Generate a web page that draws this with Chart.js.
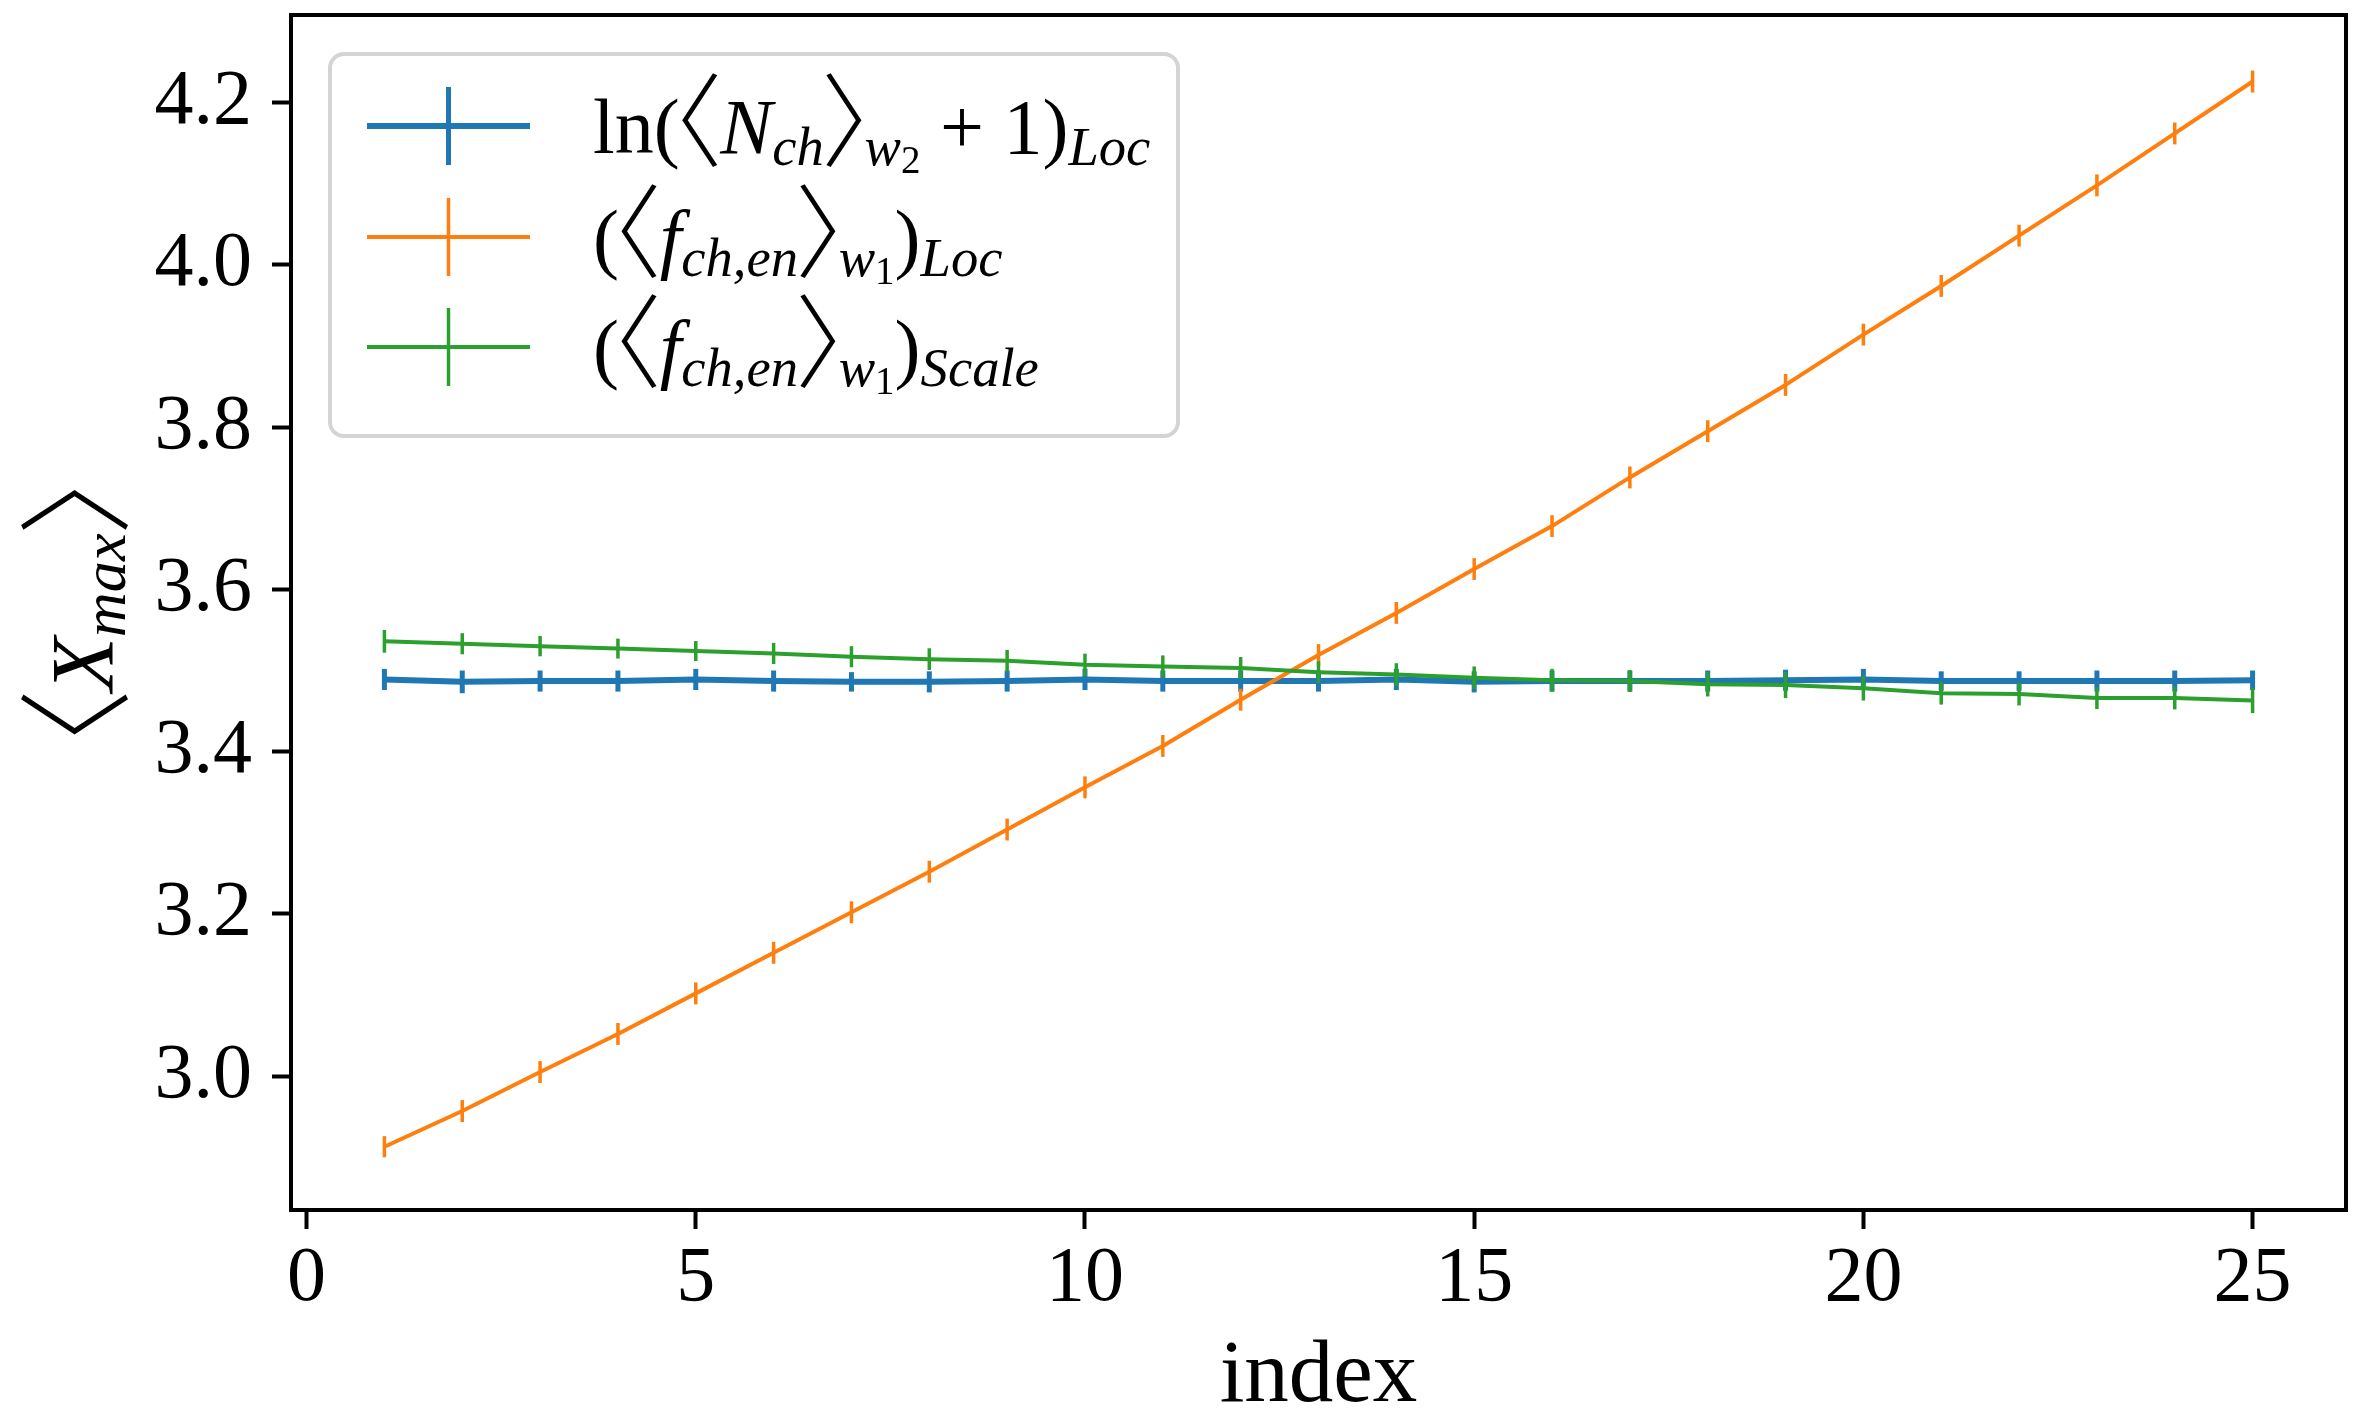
<!DOCTYPE html>
<html>
<head>
<meta charset="utf-8">
<script src="https://cdn.jsdelivr.net/npm/chart.js@4/dist/chart.umd.min.js"></script>
<style>
  html, body { margin: 0; padding: 0; background: #ffffff; }
  canvas { display: block; }
</style>
</head>
<body>
<canvas id="chart" width="2366" height="1418"></canvas>
<script>
// ---- data -------------------------------------------------------------
const indices = [1, 2, 3, 4, 5, 6, 7, 8, 9, 10, 11, 12, 13, 14, 15, 16, 17, 18, 19, 20, 21, 22, 23, 24, 25];

const nchLoc = [3.489, 3.486, 3.487, 3.487, 3.489, 3.487, 3.486, 3.486, 3.487, 3.489, 3.487, 3.487, 3.487,
                3.489, 3.486, 3.487, 3.487, 3.487, 3.488, 3.489, 3.487, 3.487, 3.487, 3.487, 3.488];
const nchLocErr = [0.013, 0.014, 0.013, 0.013, 0.013, 0.013, 0.012, 0.013, 0.013, 0.013, 0.013, 0.013, 0.013,
                   0.013, 0.013, 0.013, 0.013, 0.013, 0.013, 0.013, 0.012, 0.012, 0.013, 0.013, 0.012];

const fchLoc = [2.913, 2.957, 3.005, 3.052, 3.102, 3.152, 3.202, 3.252, 3.304, 3.356, 3.407, 3.464, 3.519,
                3.571, 3.625, 3.678, 3.738, 3.795, 3.852, 3.914, 3.974, 4.036, 4.098, 4.162, 4.226];
const fchLocErr = [0.013, 0.0135, 0.0135, 0.0135, 0.0135, 0.0135, 0.0135, 0.0135, 0.0135, 0.0135, 0.0135, 0.0135, 0.0135,
                   0.0135, 0.0135, 0.0135, 0.0135, 0.0135, 0.0135, 0.0135, 0.0135, 0.0135, 0.0135, 0.0135, 0.0135];

const fchScale = [3.536, 3.533, 3.530, 3.527, 3.524, 3.521, 3.517, 3.514, 3.512, 3.507, 3.505, 3.503, 3.498,
                  3.495, 3.491, 3.488, 3.487, 3.483, 3.482, 3.478, 3.472, 3.471, 3.466, 3.466, 3.463];
const fchScaleErr = [0.014, 0.013, 0.0125, 0.0123, 0.0123, 0.013, 0.013, 0.0134, 0.0134, 0.0138, 0.0136, 0.0136, 0.0134,
                     0.014, 0.014, 0.014, 0.0135, 0.015, 0.016, 0.015, 0.014, 0.014, 0.0135, 0.014, 0.0155];

const xTicks = [0, 5, 10, 15, 20, 25];
const yTicks = [3.0, 3.2, 3.4, 3.6, 3.8, 4.0, 4.2];

const xLabel = 'index';
// rich-text pieces: t = text, it = italic, lv = 0 normal / 1 subscript / 2 sub-subscript,
// br = tall thin angle bracket
const yLabel = [
  { t: '\u3008', it: false, lv: 0, br: true },
  { t: 'X', it: true, lv: 0 },
  { t: 'max', it: true, lv: 1 },
  { t: '\u3009', it: false, lv: 0, br: true }
];
const seriesLabels = [
  [
    { t: 'ln(', it: false, lv: 0 }, { t: '\u3008', it: false, lv: 0, br: true }, { t: 'N', it: true, lv: 0 },
    { t: 'ch', it: true, lv: 1 }, { t: '\u3009', it: false, lv: 0, br: true }, { t: 'w', it: true, lv: 1 },
    { t: '2', it: false, lv: 2 }, { t: ' + 1)', it: false, lv: 0 }, { t: 'Loc', it: true, lv: 1 }
  ],
  [
    { t: '(', it: false, lv: 0 }, { t: '\u3008', it: false, lv: 0, br: true }, { t: 'f', it: true, lv: 0 },
    { t: 'ch,en', it: true, lv: 1 }, { t: '\u3009', it: false, lv: 0, br: true }, { t: 'w', it: true, lv: 1 },
    { t: '1', it: false, lv: 2 }, { t: ')', it: false, lv: 0 }, { t: 'Loc', it: true, lv: 1 }
  ],
  [
    { t: '(', it: false, lv: 0 }, { t: '\u3008', it: false, lv: 0, br: true }, { t: 'f', it: true, lv: 0 },
    { t: 'ch,en', it: true, lv: 1 }, { t: '\u3009', it: false, lv: 0, br: true }, { t: 'w', it: true, lv: 1 },
    { t: '1', it: false, lv: 2 }, { t: ')', it: false, lv: 0 }, { t: 'Scale', it: true, lv: 1 }
  ]
];

const colors = ['#1f77b4', '#ff7f0e', '#2ca02c'];

// ---- helpers ----------------------------------------------------------
const FAMILY = "'Liberation Serif', 'DejaVu Serif', serif";
const BRACKET_FAMILY = "'Noto Sans CJK JP', 'Noto Sans CJK SC', 'DejaVu Sans', sans-serif";
const LV_SCALE = [1, 0.7, 0.5];
const LV_SHIFT = [0, 0.15, 0.26];
const BR_SIZE = 1.3;     // brackets are drawn larger than the text
const BR_PAD = 0.03;     // side bearing for the brackets, in em
const BR_DROP = 0.08;    // brackets reach a little below the baseline

function segFont(seg, size) {
  const base = size * LV_SCALE[seg.lv];
  if (seg.br) return '300 ' + (base * BR_SIZE).toFixed(1) + 'px ' + BRACKET_FAMILY;
  return (seg.it ? 'italic ' : '') + base.toFixed(1) + 'px ' + FAMILY;
}
// returns advance width and horizontal draw offset of one piece
function segMetrics(ctx, seg, size) {
  ctx.font = segFont(seg, size);
  const m = ctx.measureText(seg.t);
  if (!seg.br) return { w: m.width, dx: 0 };
  const pad = BR_PAD * size;
  const inkL = -m.actualBoundingBoxLeft, inkR = m.actualBoundingBoxRight;
  return { w: inkR - inkL + 2 * pad, dx: pad - inkL };
}
function richWidth(ctx, segs, size) {
  return segs.reduce((w, seg) => w + segMetrics(ctx, seg, size).w, 0);
}
function drawRich(ctx, segs, x, y, size) {
  ctx.textAlign = 'left';
  ctx.textBaseline = 'alphabetic';
  let cx = x;
  segs.forEach(seg => {
    const m = segMetrics(ctx, seg, size);
    const yy = y + LV_SHIFT[seg.lv] * size + (seg.br ? BR_DROP * size : 0);
    ctx.fillText(seg.t, cx + m.dx, yy);
    cx += m.w;
  });
}
const toPoints = vals => indices.map((x, i) => ({ x: x, y: vals[i] }));

// vertical error bars, drawn right after each line so stacking follows the lines
const errorBars = {
  id: 'errorBars',
  afterDatasetDraw(chart, args) {
    const ds = chart.data.datasets[args.index];
    if (!ds.errors) return;
    const { ctx, chartArea: a } = chart;
    const xs = chart.scales.x, ys = chart.scales.y;
    ctx.save();
    ctx.beginPath();
    ctx.rect(a.left, a.top, a.right - a.left, a.bottom - a.top);
    ctx.clip();
    ctx.strokeStyle = ds.borderColor;
    ctx.lineWidth = ds.errWidth;
    ctx.lineCap = 'butt';
    ds.data.forEach((p, i) => {
      const px = xs.getPixelForValue(p.x);
      ctx.beginPath();
      ctx.moveTo(px, ys.getPixelForValue(p.y - ds.errors[i]));
      ctx.lineTo(px, ys.getPixelForValue(p.y + ds.errors[i]));
      ctx.stroke();
    });
    ctx.restore();
  }
};

// frame, axis titles and the legend box
const decorations = {
  id: 'decorations',
  afterDraw(chart) {
    const { ctx, chartArea: a } = chart;
    ctx.save();
    // frame
    ctx.strokeStyle = '#000';
    ctx.lineWidth = 4;
    ctx.strokeRect(a.left, a.top, a.right - a.left, a.bottom - a.top);

    // axis titles
    ctx.fillStyle = '#000';
    ctx.font = '89px ' + FAMILY;
    ctx.textAlign = 'center';
    ctx.textBaseline = 'alphabetic';
    ctx.fillText(xLabel, (a.left + a.right) / 2, 1401);

    ctx.save();
    ctx.translate(112, (a.top + a.bottom) / 2);
    ctx.rotate(-Math.PI / 2);
    const yw = richWidth(ctx, yLabel, 89);
    drawRich(ctx, yLabel, -yw / 2, 0, 89);
    ctx.restore();

    // legend
    const bx = a.left + 39, by = a.top + 39, bw = 848, bh = 382, r = 14;
    ctx.beginPath();
    ctx.moveTo(bx + r, by);
    ctx.arcTo(bx + bw, by, bx + bw, by + bh, r);
    ctx.arcTo(bx + bw, by + bh, bx, by + bh, r);
    ctx.arcTo(bx, by + bh, bx, by, r);
    ctx.arcTo(bx, by, bx + bw, by, r);
    ctx.closePath();
    ctx.fillStyle = 'rgba(255,255,255,0.8)';
    ctx.fill();
    ctx.strokeStyle = '#d4d4d4';
    ctx.lineWidth = 4;
    ctx.stroke();

    const rows = [72, 183, 293];
    chart.data.datasets.forEach((ds, i) => {
      const cy = by + rows[i];
      ctx.strokeStyle = ds.borderColor;
      ctx.lineWidth = ds.borderWidth;
      ctx.beginPath();
      ctx.moveTo(bx + 37, cy);
      ctx.lineTo(bx + 200, cy);
      ctx.stroke();
      ctx.lineWidth = ds.errWidth;
      ctx.beginPath();
      ctx.moveTo(bx + 118.5, cy - 39);
      ctx.lineTo(bx + 118.5, cy + 39);
      ctx.stroke();
      ctx.fillStyle = '#000';
      drawRich(ctx, seriesLabels[i], bx + 263, cy + 27, 78);
    });
    ctx.restore();
  }
};

function axisCommon() {
  return {
    grid: { display: true, drawOnChartArea: false, drawTicks: true, tickLength: 19, tickWidth: 4, tickColor: '#000' },
    border: { display: false },
    title: { display: false }
  };
}

new Chart(document.getElementById('chart'), {
  type: 'line',
  data: {
    datasets: [
      { data: toPoints(nchLoc), errors: nchLocErr, borderColor: colors[0], borderWidth: 6, errWidth: 5, order: 3 },
      { data: toPoints(fchLoc), errors: fchLocErr, borderColor: colors[1], borderWidth: 4, errWidth: 3.5, order: 2 },
      { data: toPoints(fchScale), errors: fchScaleErr, borderColor: colors[2], borderWidth: 4, errWidth: 3.5, order: 1 }
    ]
  },
  options: {
    responsive: false,
    devicePixelRatio: 1,
    animation: false,
    layout: { padding: { top: 15, right: 20, left: 0, bottom: 0 } },
    elements: {
      point: { radius: 0, hoverRadius: 0 },
      line: { tension: 0, fill: false, borderJoinStyle: 'round', borderCapStyle: 'butt' }
    },
    plugins: { legend: { display: false }, tooltip: { enabled: false } },
    scales: {
      x: Object.assign(axisCommon(), {
        type: 'linear',
        min: -0.2,
        max: 26.2,
        afterBuildTicks: s => { s.ticks = xTicks.map(v => ({ value: v })); },
        afterFit: s => { s.height = 208; s.paddingLeft = 0; s.paddingRight = 0; s.paddingTop = 0; s.paddingBottom = 0; },
        ticks: { color: '#000', font: { family: FAMILY, size: 78 }, padding: 4, maxRotation: 0, autoSkip: false,
                 callback: v => String(v) }
      }),
      y: Object.assign(axisCommon(), {
        type: 'linear',
        min: 2.835,
        max: 4.308,
        afterBuildTicks: s => { s.ticks = yTicks.map(v => ({ value: v })); },
        afterFit: s => { s.width = 291; s.paddingLeft = 0; s.paddingRight = 0; s.paddingTop = 0; s.paddingBottom = 0; },
        ticks: { color: '#000', font: { family: FAMILY, size: 78 }, padding: 20, autoSkip: false,
                 callback: v => Number(v).toFixed(1) }
      })
    }
  },
  plugins: [errorBars, decorations]
});
</script>
</body>
</html>
